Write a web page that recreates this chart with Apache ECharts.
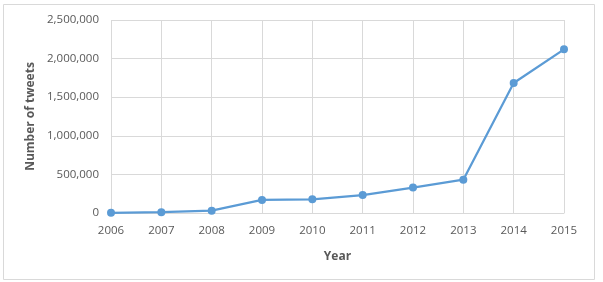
<!DOCTYPE html>
<html><head><meta charset="utf-8">
<script src="https://cdn.jsdelivr.net/npm/echarts@6/dist/echarts.min.js"></script>
<style>html,body{margin:0;padding:0;background:#fff}#c{width:603px;height:282px}</style>
</head><body><div id="c"></div>
<script>
const years = ['2006','2007','2008','2009','2010','2011','2012','2013','2014','2015'];
const tweets = [2000, 10000, 30000, 170000, 178000, 233000, 330000, 432000, 1684000, 2120000];
const yTicks = {min: 0, max: 2500000, interval: 500000};
const chart = echarts.init(document.getElementById('c'), null, {renderer: 'canvas'});
const font = '"Open Sans", "Liberation Sans", sans-serif';
chart.setOption({
  animation: false,
  graphic: [{type: 'rect', shape: {x: 3.5, y: 4.5, width: 591, height: 275}, style: {fill: 'none', stroke: '#d9d9d9', lineWidth: 1}}],
  grid: {left: 111, right: 39, top: 20, bottom: 69},
  xAxis: {
    type: 'category', data: years, boundaryGap: false,
    name: 'Year', nameLocation: 'middle', nameGap: 38,
    nameTextStyle: {fontFamily: font, fontWeight: 'bold', fontSize: 12, color: '#595959'},
    axisLine: {lineStyle: {color: '#d9d9d9'}}, axisTick: {show: false},
    axisLabel: {fontFamily: font, fontSize: 11.5, color: '#595959', margin: 12},
    splitLine: {show: true, lineStyle: {color: '#d9d9d9'}}
  },
  yAxis: {
    type: 'value', min: yTicks.min, max: yTicks.max, interval: yTicks.interval,
    name: 'Number of tweets', nameLocation: 'middle', nameGap: 72,
    nameTextStyle: {fontFamily: font, fontWeight: 'bold', fontSize: 12, color: '#595959'},
    axisLine: {show: false}, axisTick: {show: false},
    axisLabel: {fontFamily: font, fontSize: 11.5, color: '#595959', margin: 12,
      formatter: v => v.toLocaleString('en-US')},
    splitLine: {lineStyle: {color: '#d9d9d9'}}
  },
  series: [{
    type: 'line', data: tweets, symbol: 'circle', symbolSize: 8,
    lineStyle: {color: '#5b9bd5', width: 2.25}, itemStyle: {color: '#5b9bd5'}
  }]
});
</script></body></html>
